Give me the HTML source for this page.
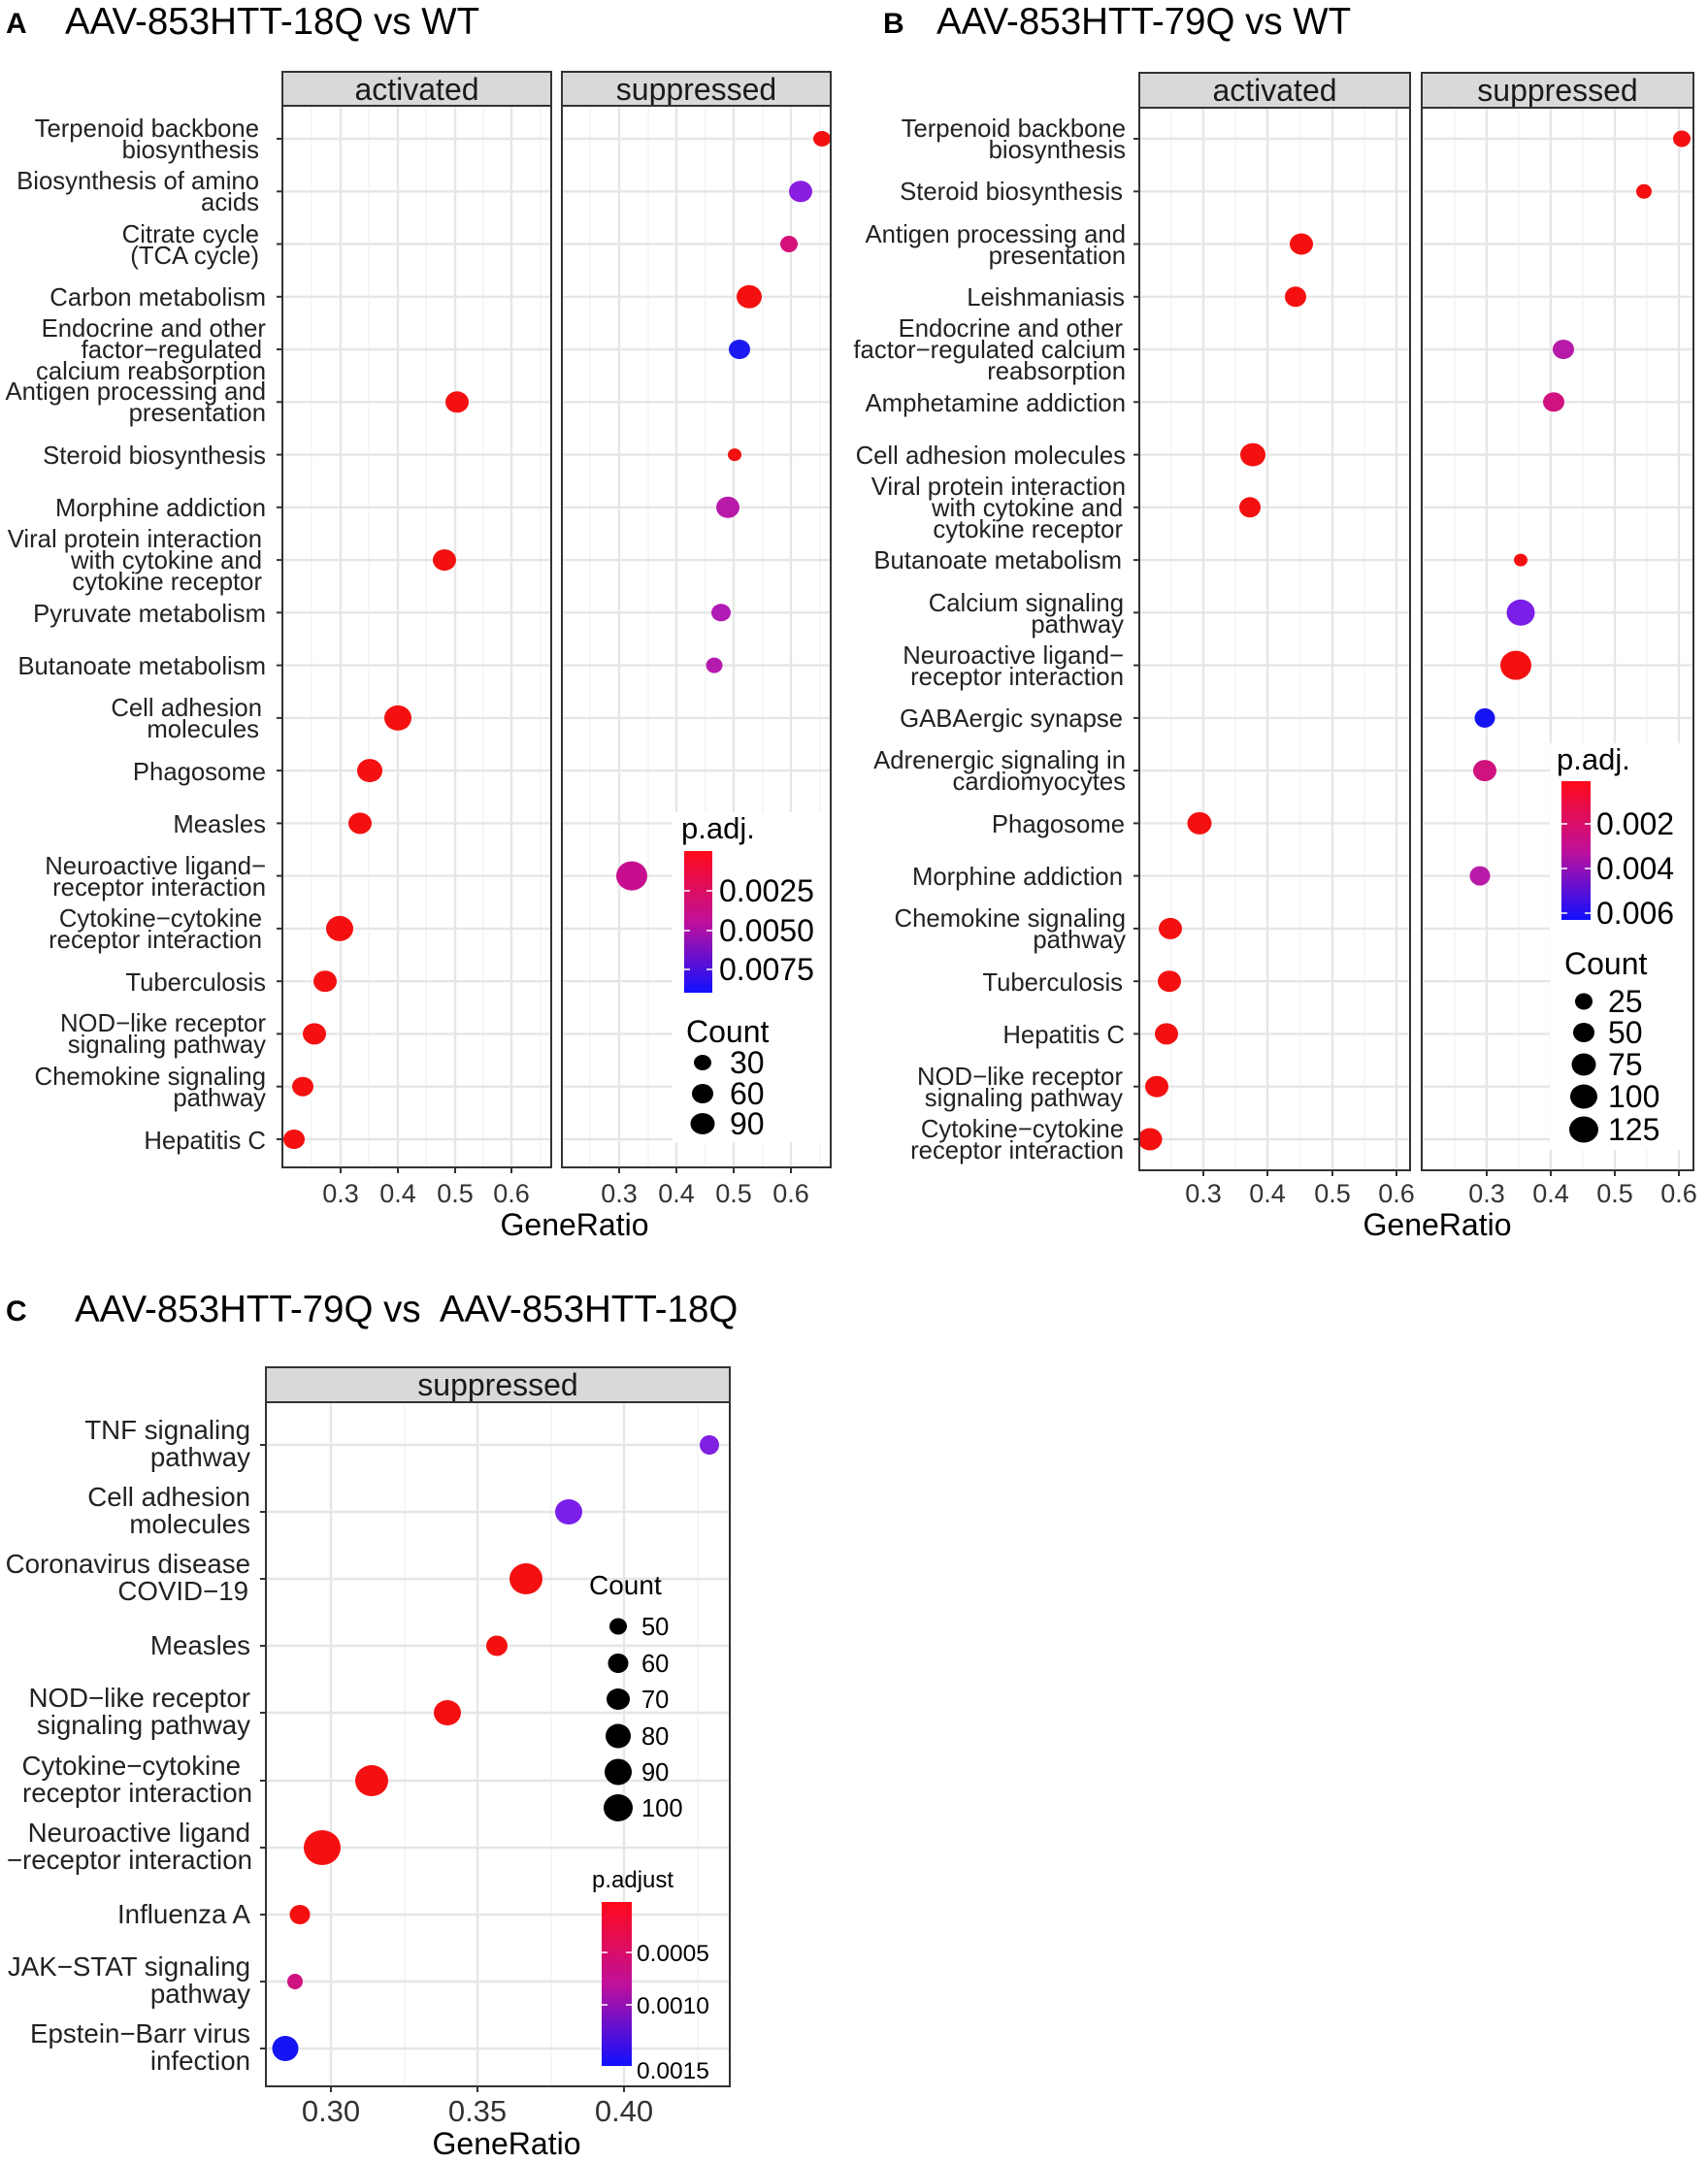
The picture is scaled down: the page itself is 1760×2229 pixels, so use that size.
<!DOCTYPE html>
<html><head><meta charset="utf-8"><style>
html,body{margin:0;padding:0;background:#fff}
svg{display:block;font-family:"Liberation Sans",sans-serif}
.lab{font-size:25.7px;fill:#222;text-anchor:end}
.labc{font-size:27.7px;fill:#222;text-anchor:end}
.tk{font-size:27px;fill:#333;text-anchor:middle}
.st{font-size:32px;fill:#1a1a1a;text-anchor:middle}
.gM{stroke:#e6e6e6;stroke-width:2.4}
.gm{stroke:#f2f2f2;stroke-width:1.3}
.tkl{stroke:#333;stroke-width:2}
</style></head><body>
<svg width="1760" height="2229" viewBox="0 0 1760 2229">
<defs>
<linearGradient id="cb" x1="0" y1="0" x2="0" y2="1">
<stop offset="0" stop-color="#ff0a1a"/><stop offset="0.5" stop-color="#c0109a"/><stop offset="1" stop-color="#1010ff"/>
</linearGradient>
</defs>

<!-- ================= PANEL A ================= -->
<text x="6" y="34" font-size="30" font-weight="bold">A</text>
<text x="67" y="35" font-size="38.5">AAV-853HTT-18Q vs WT</text>
<rect x="291" y="74" width="277" height="35" fill="#d9d9d9" stroke="#333" stroke-width="2"/>
<text class="st" x="429.5" y="103">activated</text>
<rect x="579" y="74" width="277" height="35" fill="#d9d9d9" stroke="#333" stroke-width="2"/>
<text class="st" x="717.5" y="103">suppressed</text>
<g>
<line class="gm" x1="321" y1="109" x2="321" y2="1203"/><line class="gm" x1="380" y1="109" x2="380" y2="1203"/><line class="gm" x1="439" y1="109" x2="439" y2="1203"/><line class="gm" x1="498" y1="109" x2="498" y2="1203"/><line class="gm" x1="557" y1="109" x2="557" y2="1203"/>
<line class="gM" x1="351" y1="109" x2="351" y2="1203"/><line class="gM" x1="410" y1="109" x2="410" y2="1203"/><line class="gM" x1="469" y1="109" x2="469" y2="1203"/><line class="gM" x1="527" y1="109" x2="527" y2="1203"/>
<line class="gm" x1="608" y1="109" x2="608" y2="1203"/><line class="gm" x1="668" y1="109" x2="668" y2="1203"/><line class="gm" x1="727" y1="109" x2="727" y2="1203"/><line class="gm" x1="786" y1="109" x2="786" y2="1203"/><line class="gm" x1="845" y1="109" x2="845" y2="1203"/>
<line class="gM" x1="638" y1="109" x2="638" y2="1203"/><line class="gM" x1="697" y1="109" x2="697" y2="1203"/><line class="gM" x1="756" y1="109" x2="756" y2="1203"/><line class="gM" x1="815" y1="109" x2="815" y2="1203"/>
</g>
<g class="gM">
<line x1="291" x2="856" y1="143" y2="143"/><line x1="291" x2="856" y1="197.3" y2="197.3"/><line x1="291" x2="856" y1="251.5" y2="251.5"/><line x1="291" x2="856" y1="305.8" y2="305.8"/><line x1="291" x2="856" y1="360" y2="360"/><line x1="291" x2="856" y1="414.3" y2="414.3"/><line x1="291" x2="856" y1="468.6" y2="468.6"/><line x1="291" x2="856" y1="522.8" y2="522.8"/><line x1="291" x2="856" y1="577.1" y2="577.1"/><line x1="291" x2="856" y1="631.3" y2="631.3"/><line x1="291" x2="856" y1="685.6" y2="685.6"/><line x1="291" x2="856" y1="739.9" y2="739.9"/><line x1="291" x2="856" y1="794.1" y2="794.1"/><line x1="291" x2="856" y1="848.4" y2="848.4"/><line x1="291" x2="856" y1="902.6" y2="902.6"/><line x1="291" x2="856" y1="956.9" y2="956.9"/><line x1="291" x2="856" y1="1011.2" y2="1011.2"/><line x1="291" x2="856" y1="1065.4" y2="1065.4"/><line x1="291" x2="856" y1="1119.7" y2="1119.7"/><line x1="291" x2="856" y1="1174" y2="1174"/>
</g>
<rect x="568" y="109" width="11" height="1095" fill="#fff"/>
<g fill="#f41010">
<ellipse cx="471" cy="414.3" rx="12" ry="11"/><ellipse cx="458" cy="577.1" rx="12" ry="11"/><ellipse cx="410" cy="739.9" rx="14" ry="13"/><ellipse cx="381" cy="794.1" rx="13" ry="12"/><ellipse cx="371" cy="848.4" rx="12" ry="11"/><ellipse cx="350" cy="956.9" rx="14" ry="13"/><ellipse cx="335" cy="1011.2" rx="12" ry="11"/><ellipse cx="324" cy="1065.4" rx="12" ry="11"/><ellipse cx="312" cy="1119.7" rx="11" ry="10"/><ellipse cx="303" cy="1174" rx="11" ry="10"/>
</g>
<ellipse cx="847" cy="143" rx="9" ry="8" fill="#f41010"/>
<ellipse cx="825" cy="197.3" rx="12" ry="11" fill="#8a1ee0"/>
<ellipse cx="813" cy="251.5" rx="9" ry="8.5" fill="#d4107a"/>
<ellipse cx="772" cy="305.8" rx="13" ry="12" fill="#f41010"/>
<ellipse cx="762" cy="360" rx="11" ry="10" fill="#1a1af0"/>
<ellipse cx="757" cy="468.6" rx="7" ry="6.5" fill="#f41010"/>
<ellipse cx="750" cy="522.8" rx="12" ry="11" fill="#b81aa8"/>
<ellipse cx="743" cy="631.3" rx="10" ry="9" fill="#b01ab5"/>
<ellipse cx="736" cy="685.6" rx="8.5" ry="8" fill="#b41aad"/>
<ellipse cx="651" cy="902.6" rx="16" ry="15" fill="#c70e8f"/>
<rect x="693" y="837" width="162" height="340" fill="#fff"/>
<text x="702" y="864" font-size="31">p.adj.</text>
<rect x="705" y="877" width="29" height="146" fill="url(#cb)"/>
<g stroke="#fff" stroke-width="1.5"><line x1="705" x2="711" y1="918" y2="918"/><line x1="728" x2="734" y1="918" y2="918"/><line x1="705" x2="711" y1="959" y2="959"/><line x1="728" x2="734" y1="959" y2="959"/><line x1="705" x2="711" y1="999" y2="999"/><line x1="728" x2="734" y1="999" y2="999"/></g>
<g font-size="32"><text x="741" y="929">0.0025</text><text x="741" y="970">0.0050</text><text x="741" y="1010">0.0075</text></g>
<text x="707" y="1074" font-size="32">Count</text>
<ellipse cx="724" cy="1095" rx="9" ry="8"/><ellipse cx="724" cy="1127" rx="11" ry="10"/><ellipse cx="724" cy="1158" rx="12.5" ry="11"/>
<g font-size="32"><text x="752" y="1106">30</text><text x="752" y="1138">60</text><text x="752" y="1169">90</text></g>
<rect x="291" y="109" width="277" height="1094" fill="none" stroke="#333" stroke-width="2"/>
<rect x="579" y="109" width="277" height="1094" fill="none" stroke="#333" stroke-width="2"/>
<g class="tkl">
<line x1="351" x2="351" y1="1203" y2="1209"/><line x1="410" x2="410" y1="1203" y2="1209"/><line x1="469" x2="469" y1="1203" y2="1209"/><line x1="527" x2="527" y1="1203" y2="1209"/>
<line x1="638" x2="638" y1="1203" y2="1209"/><line x1="697" x2="697" y1="1203" y2="1209"/><line x1="756" x2="756" y1="1203" y2="1209"/><line x1="815" x2="815" y1="1203" y2="1209"/>
</g>
<g class="tk"><text x="351" y="1239">0.3</text><text x="410" y="1239">0.4</text><text x="469" y="1239">0.5</text><text x="527" y="1239">0.6</text><text x="638" y="1239">0.3</text><text x="697" y="1239">0.4</text><text x="756" y="1239">0.5</text><text x="815" y="1239">0.6</text></g>
<text x="592" y="1273" font-size="32" text-anchor="middle">GeneRatio</text>
<g class="tkl">
<line x1="285" x2="291" y1="143" y2="143"/><line x1="285" x2="291" y1="197.3" y2="197.3"/><line x1="285" x2="291" y1="251.5" y2="251.5"/><line x1="285" x2="291" y1="305.8" y2="305.8"/><line x1="285" x2="291" y1="360" y2="360"/><line x1="285" x2="291" y1="414.3" y2="414.3"/><line x1="285" x2="291" y1="468.6" y2="468.6"/><line x1="285" x2="291" y1="522.8" y2="522.8"/><line x1="285" x2="291" y1="577.1" y2="577.1"/><line x1="285" x2="291" y1="631.3" y2="631.3"/><line x1="285" x2="291" y1="685.6" y2="685.6"/><line x1="285" x2="291" y1="739.9" y2="739.9"/><line x1="285" x2="291" y1="794.1" y2="794.1"/><line x1="285" x2="291" y1="848.4" y2="848.4"/><line x1="285" x2="291" y1="902.6" y2="902.6"/><line x1="285" x2="291" y1="956.9" y2="956.9"/><line x1="285" x2="291" y1="1011.2" y2="1011.2"/><line x1="285" x2="291" y1="1065.4" y2="1065.4"/><line x1="285" x2="291" y1="1119.7" y2="1119.7"/><line x1="285" x2="291" y1="1174" y2="1174"/>
</g>
<g class="lab">
<text x="267" y="141">Terpenoid backbone</text><text x="267" y="163">biosynthesis</text>
<text x="267" y="195">Biosynthesis of amino</text><text x="267" y="217">acids</text>
<text x="267" y="250">Citrate cycle</text><text x="267" y="272">(TCA cycle)</text>
<text x="274" y="315">Carbon metabolism</text>
<text x="274" y="347">Endocrine and other</text><text x="270" y="369">factor−regulated</text><text x="274" y="391">calcium reabsorption</text>
<text x="274" y="412">Antigen processing and</text><text x="274" y="434">presentation</text>
<text x="274" y="478">Steroid biosynthesis</text>
<text x="274" y="532">Morphine addiction</text>
<text x="270" y="564">Viral protein interaction</text><text x="270" y="586">with cytokine and</text><text x="270" y="608">cytokine receptor</text>
<text x="274" y="641">Pyruvate metabolism</text>
<text x="274" y="695">Butanoate metabolism</text>
<text x="270" y="738">Cell adhesion</text><text x="267" y="760">molecules</text>
<text x="274" y="804">Phagosome</text>
<text x="274" y="858">Measles</text>
<text x="274" y="901">Neuroactive ligand−</text><text x="274" y="923">receptor interaction</text>
<text x="270" y="955">Cytokine−cytokine</text><text x="270" y="977">receptor interaction</text>
<text x="274" y="1021">Tuberculosis</text>
<text x="274" y="1063">NOD−like receptor</text><text x="274" y="1085">signaling pathway</text>
<text x="274" y="1118">Chemokine signaling</text><text x="274" y="1140">pathway</text>
<text x="274" y="1184">Hepatitis C</text>
</g>

<!-- ================= PANEL B ================= -->
<text x="910" y="34" font-size="30" font-weight="bold">B</text>
<text x="965" y="35" font-size="38.5">AAV-853HTT-79Q vs WT</text>
<rect x="1174" y="75" width="279" height="36" fill="#d9d9d9" stroke="#333" stroke-width="2"/>
<text class="st" x="1313.5" y="104">activated</text>
<rect x="1465" y="75" width="280" height="36" fill="#d9d9d9" stroke="#333" stroke-width="2"/>
<text class="st" x="1605" y="104">suppressed</text>
<g>
<line class="gm" x1="1207" y1="111" x2="1207" y2="1206"/><line class="gm" x1="1273" y1="111" x2="1273" y2="1206"/><line class="gm" x1="1340" y1="111" x2="1340" y2="1206"/><line class="gm" x1="1406" y1="111" x2="1406" y2="1206"/>
<line class="gM" x1="1240" y1="111" x2="1240" y2="1206"/><line class="gM" x1="1306" y1="111" x2="1306" y2="1206"/><line class="gM" x1="1373" y1="111" x2="1373" y2="1206"/><line class="gM" x1="1439" y1="111" x2="1439" y2="1206"/>
<line class="gm" x1="1499" y1="111" x2="1499" y2="1206"/><line class="gm" x1="1565" y1="111" x2="1565" y2="1206"/><line class="gm" x1="1631" y1="111" x2="1631" y2="1206"/><line class="gm" x1="1697" y1="111" x2="1697" y2="1206"/>
<line class="gM" x1="1532" y1="111" x2="1532" y2="1206"/><line class="gM" x1="1598" y1="111" x2="1598" y2="1206"/><line class="gM" x1="1664" y1="111" x2="1664" y2="1206"/><line class="gM" x1="1730" y1="111" x2="1730" y2="1206"/>
</g>
<g class="gM">
<line x1="1174" x2="1745" y1="143" y2="143"/><line x1="1174" x2="1745" y1="197.3" y2="197.3"/><line x1="1174" x2="1745" y1="251.5" y2="251.5"/><line x1="1174" x2="1745" y1="305.8" y2="305.8"/><line x1="1174" x2="1745" y1="360" y2="360"/><line x1="1174" x2="1745" y1="414.3" y2="414.3"/><line x1="1174" x2="1745" y1="468.6" y2="468.6"/><line x1="1174" x2="1745" y1="522.8" y2="522.8"/><line x1="1174" x2="1745" y1="577.1" y2="577.1"/><line x1="1174" x2="1745" y1="631.3" y2="631.3"/><line x1="1174" x2="1745" y1="685.6" y2="685.6"/><line x1="1174" x2="1745" y1="739.9" y2="739.9"/><line x1="1174" x2="1745" y1="794.1" y2="794.1"/><line x1="1174" x2="1745" y1="848.4" y2="848.4"/><line x1="1174" x2="1745" y1="902.6" y2="902.6"/><line x1="1174" x2="1745" y1="956.9" y2="956.9"/><line x1="1174" x2="1745" y1="1011.2" y2="1011.2"/><line x1="1174" x2="1745" y1="1065.4" y2="1065.4"/><line x1="1174" x2="1745" y1="1119.7" y2="1119.7"/><line x1="1174" x2="1745" y1="1174" y2="1174"/>
</g>
<rect x="1453" y="111" width="12" height="1096" fill="#fff"/>
<g fill="#f41010">
<ellipse cx="1341" cy="251.5" rx="12" ry="11"/><ellipse cx="1335" cy="305.8" rx="11" ry="10.5"/><ellipse cx="1291" cy="468.6" rx="13" ry="12"/><ellipse cx="1288" cy="522.8" rx="11" ry="10.5"/><ellipse cx="1236" cy="848.4" rx="12.5" ry="11.5"/><ellipse cx="1206" cy="956.9" rx="12" ry="11"/><ellipse cx="1205" cy="1011.2" rx="12" ry="11"/><ellipse cx="1202" cy="1065.4" rx="12" ry="11"/><ellipse cx="1192" cy="1119.7" rx="12" ry="11"/><ellipse cx="1185" cy="1174" rx="12.5" ry="11.5"/>
</g>
<ellipse cx="1733" cy="143" rx="9" ry="8.5" fill="#f41010"/>
<ellipse cx="1694" cy="197.3" rx="8" ry="7.5" fill="#f41010"/>
<ellipse cx="1611" cy="360" rx="11" ry="10" fill="#b81aa8"/>
<ellipse cx="1601" cy="414.3" rx="11" ry="10" fill="#d0127e"/>
<ellipse cx="1567" cy="577.1" rx="7" ry="6.5" fill="#f41010"/>
<ellipse cx="1567" cy="631.3" rx="14.5" ry="13.5" fill="#7a1ee8"/>
<ellipse cx="1562" cy="685.6" rx="16" ry="15" fill="#f41010"/>
<ellipse cx="1530" cy="739.9" rx="10.5" ry="10" fill="#1414f4"/>
<ellipse cx="1530" cy="794.1" rx="12" ry="11" fill="#d0127e"/>
<ellipse cx="1525" cy="902.6" rx="10.5" ry="10" fill="#b81aa8"/>
<rect x="1597" y="766" width="147" height="419" fill="#fff"/>
<text x="1604" y="793" font-size="31">p.adj.</text>
<rect x="1609" y="805" width="30" height="143" fill="url(#cb)"/>
<g stroke="#fff" stroke-width="1.5"><line x1="1609" x2="1615" y1="849" y2="849"/><line x1="1633" x2="1639" y1="849" y2="849"/><line x1="1609" x2="1615" y1="895" y2="895"/><line x1="1633" x2="1639" y1="895" y2="895"/><line x1="1609" x2="1615" y1="941" y2="941"/><line x1="1633" x2="1639" y1="941" y2="941"/></g>
<g font-size="32"><text x="1645" y="860">0.002</text><text x="1645" y="906">0.004</text><text x="1645" y="952">0.006</text></g>
<text x="1612" y="1004" font-size="32">Count</text>
<ellipse cx="1632" cy="1032" rx="9" ry="8.5"/><ellipse cx="1632" cy="1064" rx="11" ry="10"/><ellipse cx="1632" cy="1097" rx="12.5" ry="11.5"/><ellipse cx="1632" cy="1130" rx="14" ry="12.5"/><ellipse cx="1632" cy="1164" rx="15" ry="13.5"/>
<g font-size="32"><text x="1657" y="1043">25</text><text x="1657" y="1075">50</text><text x="1657" y="1108">75</text><text x="1657" y="1141">100</text><text x="1657" y="1175">125</text></g>
<rect x="1174" y="111" width="279" height="1095" fill="none" stroke="#333" stroke-width="2"/>
<rect x="1465" y="111" width="280" height="1095" fill="none" stroke="#333" stroke-width="2"/>
<g class="tkl">
<line x1="1240" x2="1240" y1="1206" y2="1212"/><line x1="1306" x2="1306" y1="1206" y2="1212"/><line x1="1373" x2="1373" y1="1206" y2="1212"/><line x1="1439" x2="1439" y1="1206" y2="1212"/>
<line x1="1532" x2="1532" y1="1206" y2="1212"/><line x1="1598" x2="1598" y1="1206" y2="1212"/><line x1="1664" x2="1664" y1="1206" y2="1212"/><line x1="1730" x2="1730" y1="1206" y2="1212"/>
</g>
<g class="tk"><text x="1240" y="1239">0.3</text><text x="1306" y="1239">0.4</text><text x="1373" y="1239">0.5</text><text x="1439" y="1239">0.6</text><text x="1532" y="1239">0.3</text><text x="1598" y="1239">0.4</text><text x="1664" y="1239">0.5</text><text x="1730" y="1239">0.6</text></g>
<text x="1481" y="1273" font-size="32" text-anchor="middle">GeneRatio</text>
<g class="tkl">
<line x1="1168" x2="1174" y1="143" y2="143"/><line x1="1168" x2="1174" y1="197.3" y2="197.3"/><line x1="1168" x2="1174" y1="251.5" y2="251.5"/><line x1="1168" x2="1174" y1="305.8" y2="305.8"/><line x1="1168" x2="1174" y1="360" y2="360"/><line x1="1168" x2="1174" y1="414.3" y2="414.3"/><line x1="1168" x2="1174" y1="468.6" y2="468.6"/><line x1="1168" x2="1174" y1="522.8" y2="522.8"/><line x1="1168" x2="1174" y1="577.1" y2="577.1"/><line x1="1168" x2="1174" y1="631.3" y2="631.3"/><line x1="1168" x2="1174" y1="685.6" y2="685.6"/><line x1="1168" x2="1174" y1="739.9" y2="739.9"/><line x1="1168" x2="1174" y1="794.1" y2="794.1"/><line x1="1168" x2="1174" y1="848.4" y2="848.4"/><line x1="1168" x2="1174" y1="902.6" y2="902.6"/><line x1="1168" x2="1174" y1="956.9" y2="956.9"/><line x1="1168" x2="1174" y1="1011.2" y2="1011.2"/><line x1="1168" x2="1174" y1="1065.4" y2="1065.4"/><line x1="1168" x2="1174" y1="1119.7" y2="1119.7"/><line x1="1168" x2="1174" y1="1174" y2="1174"/>
</g>
<g class="lab">
<text x="1160" y="141">Terpenoid backbone</text><text x="1160" y="163">biosynthesis</text>
<text x="1157" y="206">Steroid biosynthesis</text>
<text x="1160" y="250">Antigen processing and</text><text x="1160" y="272">presentation</text>
<text x="1159" y="315">Leishmaniasis</text>
<text x="1157" y="347">Endocrine and other</text><text x="1160" y="369">factor−regulated calcium</text><text x="1160" y="391">reabsorption</text>
<text x="1160" y="424">Amphetamine addiction</text>
<text x="1160" y="478">Cell adhesion molecules</text>
<text x="1160" y="510">Viral protein interaction</text><text x="1157" y="532">with cytokine and</text><text x="1157" y="554">cytokine receptor</text>
<text x="1156" y="586">Butanoate metabolism</text>
<text x="1158" y="630">Calcium signaling</text><text x="1158" y="652">pathway</text>
<text x="1158" y="684">Neuroactive ligand−</text><text x="1158" y="706">receptor interaction</text>
<text x="1157" y="749">GABAergic synapse</text>
<text x="1160" y="792">Adrenergic signaling in</text><text x="1160" y="814">cardiomyocytes</text>
<text x="1159" y="858">Phagosome</text>
<text x="1157" y="912">Morphine addiction</text>
<text x="1160" y="955">Chemokine signaling</text><text x="1160" y="977">pathway</text>
<text x="1157" y="1021">Tuberculosis</text>
<text x="1159" y="1075">Hepatitis C</text>
<text x="1157" y="1118">NOD−like receptor</text><text x="1157" y="1140">signaling pathway</text>
<text x="1158" y="1172">Cytokine−cytokine</text><text x="1158" y="1194">receptor interaction</text>
</g>

<!-- ================= PANEL C ================= -->
<text x="6" y="1361" font-size="30" font-weight="bold">C</text>
<text x="77" y="1362" font-size="38.5" xml:space="preserve">AAV-853HTT-79Q vs  AAV-853HTT-18Q</text>
<rect x="274" y="1409" width="478" height="36" fill="#d9d9d9" stroke="#333" stroke-width="2"/>
<text class="st" x="513" y="1438">suppressed</text>
<g>
<line class="gm" x1="417" y1="1445" x2="417" y2="2150"/><line class="gm" x1="568" y1="1445" x2="568" y2="2150"/><line class="gm" x1="719" y1="1445" x2="719" y2="2150"/>
<line class="gM" x1="341" y1="1445" x2="341" y2="2150"/><line class="gM" x1="492" y1="1445" x2="492" y2="2150"/><line class="gM" x1="643" y1="1445" x2="643" y2="2150"/>
</g>
<g class="gM">
<line x1="274" x2="752" y1="1489" y2="1489"/><line x1="274" x2="752" y1="1558" y2="1558"/><line x1="274" x2="752" y1="1627" y2="1627"/><line x1="274" x2="752" y1="1696" y2="1696"/><line x1="274" x2="752" y1="1765" y2="1765"/><line x1="274" x2="752" y1="1835" y2="1835"/><line x1="274" x2="752" y1="1904" y2="1904"/><line x1="274" x2="752" y1="1973" y2="1973"/><line x1="274" x2="752" y1="2042" y2="2042"/><line x1="274" x2="752" y1="2111" y2="2111"/>
</g>
<ellipse cx="731" cy="1489" rx="10" ry="10" fill="#8020e0"/>
<ellipse cx="586" cy="1558" rx="14" ry="13" fill="#7a1ee8"/>
<ellipse cx="542" cy="1627" rx="17" ry="16" fill="#f41010"/>
<ellipse cx="512" cy="1696" rx="11" ry="10.5" fill="#f41010"/>
<ellipse cx="461" cy="1765" rx="14" ry="13" fill="#f41010"/>
<ellipse cx="383" cy="1835" rx="17" ry="16" fill="#f41010"/>
<ellipse cx="332" cy="1904" rx="19" ry="18" fill="#f41010"/>
<ellipse cx="309" cy="1973" rx="10.5" ry="10" fill="#f41010"/>
<ellipse cx="304" cy="2042" rx="8" ry="8" fill="#d0127e"/>
<ellipse cx="294" cy="2111" rx="13.5" ry="13" fill="#1414f4"/>
<text x="607" y="1643" font-size="28">Count</text>
<ellipse cx="637" cy="1676" rx="9" ry="8.5"/><ellipse cx="637" cy="1714" rx="10.5" ry="10"/><ellipse cx="637" cy="1751" rx="12" ry="11"/><ellipse cx="637" cy="1789" rx="13" ry="12.5"/><ellipse cx="637" cy="1826" rx="14" ry="13.5"/><ellipse cx="637" cy="1863" rx="15" ry="14"/>
<g font-size="25.5"><text x="661" y="1685">50</text><text x="661" y="1723">60</text><text x="661" y="1760">70</text><text x="661" y="1798">80</text><text x="661" y="1835">90</text><text x="661" y="1872">100</text></g>
<text x="610" y="1945" font-size="24">p.adjust</text>
<rect x="620" y="1960" width="31" height="169" fill="url(#cb)"/>
<g stroke="#fff" stroke-width="1.5"><line x1="620" x2="626" y1="2012" y2="2012"/><line x1="645" x2="651" y1="2012" y2="2012"/><line x1="620" x2="626" y1="2066" y2="2066"/><line x1="645" x2="651" y1="2066" y2="2066"/></g>
<g font-size="24.5"><text x="656" y="2021">0.0005</text><text x="656" y="2075">0.0010</text><text x="656" y="2142">0.0015</text></g>
<rect x="274" y="1445" width="478" height="705" fill="none" stroke="#333" stroke-width="2"/>
<g class="tkl">
<line x1="341" x2="341" y1="2150" y2="2156"/><line x1="492" x2="492" y1="2150" y2="2156"/><line x1="643" x2="643" y1="2150" y2="2156"/>
<line x1="268" x2="274" y1="1489" y2="1489"/><line x1="268" x2="274" y1="1558" y2="1558"/><line x1="268" x2="274" y1="1627" y2="1627"/><line x1="268" x2="274" y1="1696" y2="1696"/><line x1="268" x2="274" y1="1765" y2="1765"/><line x1="268" x2="274" y1="1835" y2="1835"/><line x1="268" x2="274" y1="1904" y2="1904"/><line x1="268" x2="274" y1="1973" y2="1973"/><line x1="268" x2="274" y1="2042" y2="2042"/><line x1="268" x2="274" y1="2111" y2="2111"/>
</g>
<g class="tk" style="font-size:31px"><text x="341" y="2186">0.30</text><text x="492" y="2186">0.35</text><text x="643" y="2186">0.40</text></g>
<text x="522" y="2220" font-size="32" text-anchor="middle">GeneRatio</text>
<g class="labc">
<text x="258" y="1483">TNF signaling</text><text x="258" y="1511">pathway</text>
<text x="258" y="1552">Cell adhesion</text><text x="258" y="1580">molecules</text>
<text x="258" y="1621">Coronavirus disease</text><text x="256" y="1649">COVID−19</text>
<text x="258" y="1705">Measles</text>
<text x="258" y="1759">NOD−like receptor</text><text x="258" y="1787">signaling pathway</text>
<text x="248" y="1829">Cytokine−cytokine</text><text x="260" y="1857">receptor interaction</text>
<text x="258" y="1898">Neuroactive ligand</text><text x="260" y="1926">−receptor interaction</text>
<text x="258" y="1982">Influenza A</text>
<text x="258" y="2036">JAK−STAT signaling</text><text x="258" y="2064">pathway</text>
<text x="258" y="2105">Epstein−Barr virus</text><text x="258" y="2133">infection</text>
</g>
</svg>
</body></html>
